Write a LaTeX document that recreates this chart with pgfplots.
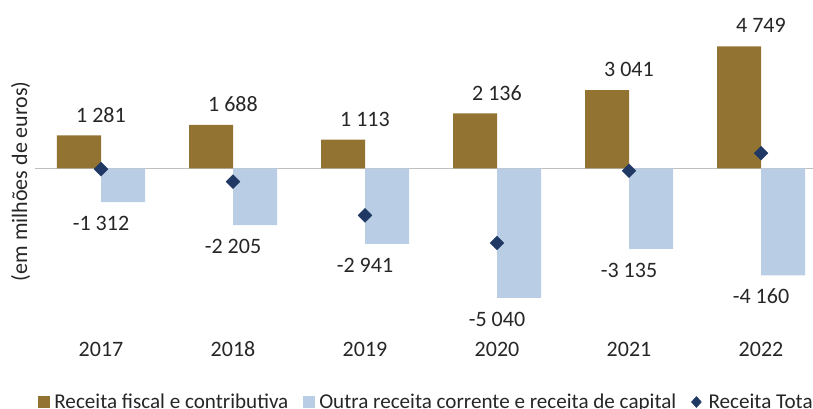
\documentclass[border=0pt]{standalone}
\usepackage{fontspec}
\setmainfont{Carlito}
\usepackage{pgfplots}
\pgfplotsset{compat=1.18}
\usepackage{pgfplotstable}
\definecolor{cbrown}{HTML}{937332}
\definecolor{cblue}{HTML}{B9CDE5}
\definecolor{cnavy}{HTML}{1F3864}
\definecolor{ctext}{HTML}{262626}
\definecolor{czero}{HTML}{BFBFBF}

\pgfplotstableread{
x fiscal outra total
0 1281 -1312 -31
1 1688 -2205 -517
2 1113 -2941 -1828
3 2136 -5040 -2904
4 3041 -3135 -94
5 4749 -4160 589
}\datatable

\begin{document}
\begin{tikzpicture}[font=\fontsize{22}{26}\selectfont, text=ctext]
\begin{axis}[
  at={(35pt,72.6pt)}, anchor=south west,
  scale only axis,
  width=792pt, height=308.4pt,
  xmin=-0.5, xmax=5.5,
  ymin=-6500, ymax=5500,
  clip=false,
  axis line style={draw=none},
  ytick=\empty,
  xtick={0,1,2,3,4,5},
  xticklabels={2017,2018,2019,2020,2021,2022},
  xtick style={draw=none},
  major tick length=0pt,
  xticklabel style={anchor=base, yshift=-20.6pt, text=ctext},
  ylabel={(em milhões de euros)},
  every axis y label/.style={at={(axis description cs:0,0.5)}, xshift=-14.5pt, rotate=90, anchor=center, text=ctext},
  /pgf/number format/assume math mode=true,
  /pgf/number format/1000 sep={\ },
  legend columns=3,
  legend style={at={(axis description cs:0,0)}, anchor=west, xshift=3.3pt, yshift=-66.6pt,
    draw=none, fill=none, text=ctext, inner sep=0pt,
    font=\fontsize{21.1}{25}\selectfont,
    nodes={inner sep=0pt},
    /tikz/every odd column/.append style={column sep=4.5pt},
    /tikz/every even column/.append style={column sep=15pt}},
]
\draw[color=czero, line width=1.3pt] (axis cs:-0.5,0) -- (axis cs:6,0);
\addplot[ybar, bar width=44pt, bar shift=-22pt, fill=cbrown, draw=none,
  nodes near coords,
  every node near coord/.append style={anchor=base, yshift=13.4pt, text=ctext},
  legend image code/.code={\fill[cbrown] (0pt,-5.7pt) rectangle (11.4pt,5.7pt);}]
  table[x=x, y=fiscal] {\datatable};
\addlegendentry{Receita fiscal e contributiva}
\addplot[ybar, bar width=44pt, bar shift=22pt, fill=cblue, draw=none,
  nodes near coords,
  every node near coord/.append style={anchor=base, yshift=-28.5pt, text=ctext},
  legend image code/.code={\fill[cblue] (0pt,-5.7pt) rectangle (11.4pt,5.7pt);}]
  table[x=x, y=outra] {\datatable};
\addlegendentry{Outra receita corrente e receita de capital}
\addplot[only marks, mark=square*, mark size=4.9pt, color=cnavy,
  mark options={rotate=45, fill=cnavy, draw=cnavy},
  legend image code/.code={\fill[cnavy] (5pt,5.5pt) -- (10pt,0pt) -- (5pt,-5.5pt) -- (0pt,0pt) -- cycle; \path (12.5pt,0pt);}]
  table[x=x, y=total] {\datatable};
\addlegendentry{Receita Total}
\end{axis}
\pgfresetboundingbox
\path[use as bounding box] (0,0) rectangle (813pt,408pt);
\end{tikzpicture}
\end{document}
